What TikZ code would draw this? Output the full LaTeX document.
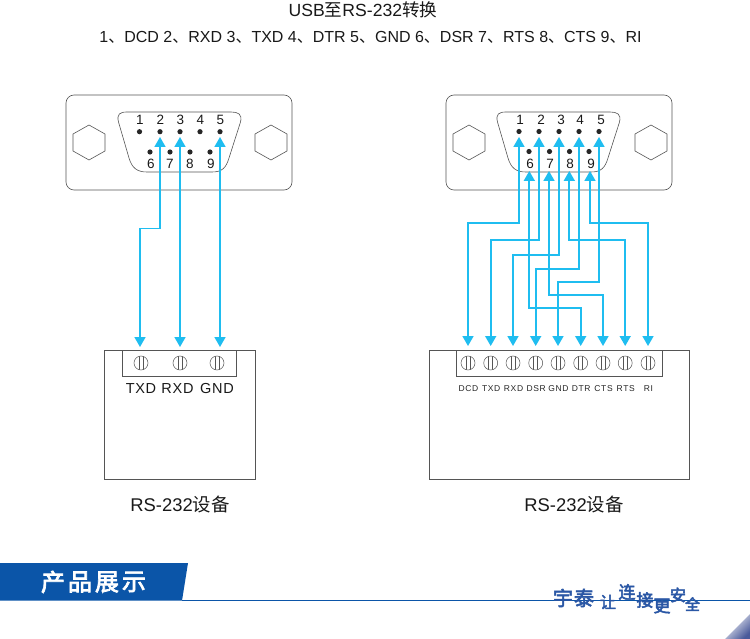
\documentclass[tikz,border=0pt]{standalone}
\usepackage{fontspec}
\setmainfont{Liberation Sans}
\newfontfamily\cjk{Noto Sans CJK SC}
\newfontfamily\cjkb{Noto Sans CJK SC}[FakeBold=3]
\usetikzlibrary{arrows.meta,calc}
\definecolor{wirec}{HTML}{1FBDF0}
\definecolor{bluec}{HTML}{0B55A8}
\definecolor{edgec}{HTML}{555555}
\definecolor{sloganc}{HTML}{2A57A5}
\definecolor{cornerc}{HTML}{4A5A9A}
\tikzset{
 wire/.style={draw=wirec,line width=1.7pt,{Triangle[length=10pt,width=11pt]}-{Triangle[length=10pt,width=11pt]}},
 shell/.style={draw=edgec,line width=0.6pt},
 dev/.style={draw=edgec,line width=0.7pt},
 pin/.style={circle,fill=black!85,inner sep=0pt,minimum size=5.2pt},
 num/.style={font=\fontsize{13.5}{13.5}\selectfont,inner sep=0pt,text=black!90},
 screw/.style={circle,draw=edgec,line width=0.5pt,inner sep=0pt,minimum size=14pt,
   path picture={\draw[edgec,line width=0.5pt]
     ([xshift=-2pt]path picture bounding box.north) -- ([xshift=-2pt]path picture bounding box.south)
     ([xshift=2pt]path picture bounding box.north) -- ([xshift=2pt]path picture bounding box.south);}},
 biglabel/.style={font=\fontsize{14.5}{14.5}\selectfont,inner sep=0pt,text=black!90},
 smalllabel/.style={font=\fontsize{8.5}{8.5}\selectfont,inner sep=0pt,text=black!85},
 capt/.style={font=\fontsize{18.4}{18.4}\selectfont,inner sep=0pt,text=black!90},
 slog/.style={inner sep=0pt,text=sloganc},
 bann/.style={font=\fontsize{24}{24}\selectfont\cjkb,inner sep=0pt,text=white},
}
\begin{document}
\begin{tikzpicture}[x=1pt,y=-1pt]
\useasboundingbox (0,0) rectangle (750,639);
\fill[white] (0,0) rectangle (750,639);

% titles
\node[inner sep=0pt,font=\fontsize{17.6}{17.6}\selectfont,text=black!90] (title) at (363,10) {USB{\cjk 至}RS-232{\cjk 转换}};
\node[inner sep=0pt,font=\fontsize{16}{16}\selectfont,text=black!90] (subtitle) at (370.5,37)
 {1{\cjk 、}DCD 2{\cjk 、}RXD 3{\cjk 、}TXD 4{\cjk 、}DTR 5{\cjk 、}GND 6{\cjk 、}DSR 7{\cjk 、}RTS 8{\cjk 、}CTS 9{\cjk 、}RI};

% ---------- left connector
\draw[shell,rounded corners=8pt] (66,95) rectangle (292,190);
\draw[shell] (118.5,122) .. controls (116.5,114) and (120,112) .. (127,112) -- (231,112)
  .. controls (238,112) and (242.5,114) .. (240.5,122) -- (229,158)
  .. controls (226,168) and (222,172) .. (212,172) -- (147,172)
  .. controls (137,172) and (132,168) .. (129,158) -- cycle;
\draw[shell] (89,125) -- (105,134) -- (105,151) -- (89,160) -- (73,151) -- (73,134) -- cycle;
\draw[shell] (271,125) -- (287,134) -- (287,151) -- (271,160) -- (255,151) -- (255,134) -- cycle;
\foreach \n/\px in {1/139.5,2/160,3/180,4/200,5/220}{
  \node[pin] (lp\n) at (\px,131.7) {};
  \node[num] (ln\n) at (\px+.5,120) {\n};
}
\foreach \n/\px/\lx in {6/150/151,7/170/170,8/190/190,9/210/211}{
  \node[pin] (lp\n) at (\px,152) {};
  \node[num] (ln\n) at (\lx,163.5) {\n};
}
% left device
\draw[dev] (104,479) -- (104,350) -- (255,350) -- (255,479) -- cycle;
\draw[dev] (122,350) -- (122,376) -- (236,376) -- (236,350);
\foreach \n/\px/\txt/\lx in {1/141/TXD/141,2/180/RXD/177.5,3/217/GND/217}{
  \node[screw] (ls\n) at (\px,363) {};
  \node[biglabel] (ll\n) at (\lx,389) {\addfontfeatures{LetterSpace=5}\txt};
}
\coordinate (la1) at (160,137);
\coordinate (la2) at (180,137);
\coordinate (la3) at (220,137);
\coordinate (lb1) at (140,347);
\coordinate (lb2) at (180,347);
\coordinate (lb3) at (220,347);
\draw[wire] (la1) -- (la1 |- 0,228.5) -| (lb1);
\draw[wire] (la2) -- (lb2);
\draw[wire] (la3) -- (lb3);
\node[capt] (lcap) at (180,505) {RS-232{\cjk 设备}};

% ---------- right connector
\draw[shell,rounded corners=8pt] (446,95) rectangle (672,190);
\draw[shell] (497.5,122) .. controls (495.5,114) and (499,112) .. (506,112) -- (610,112)
  .. controls (617,112) and (621.5,114) .. (619.5,122) -- (608,158)
  .. controls (605,168) and (601,172) .. (591,172) -- (526,172)
  .. controls (516,172) and (511,168) .. (508,158) -- cycle;
\draw[shell] (469,125) -- (485,134) -- (485,151) -- (469,160) -- (453,151) -- (453,134) -- cycle;
\draw[shell] (651,125) -- (667,134) -- (667,151) -- (651,160) -- (635,151) -- (635,134) -- cycle;
\foreach \n/\px/\lx in {1/519/520,2/539/541,3/559/561,4/579/580,5/599/601}{
  \node[pin] (rp\n) at (\px,131.5) {};
  \node[num] (rn\n) at (\lx,120) {\n};
}
\foreach \n/\px/\lx in {6/529/530,7/549.5/550,8/569.5/570,9/589/591}{
  \node[pin] (rp\n) at (\px,151.5) {};
  \node[num] (rn\n) at (\lx,163.5) {\n};
}
% right device
\draw[dev] (429,479) -- (429,350) -- (689,350) -- (689,479) -- cycle;
\draw[dev] (456,350) -- (456,376) -- (662,376) -- (662,350);
\foreach \n/\px/\txt in {1/468/DCD,2/490.7/TXD,3/513/RXD,4/535.7/DSR,5/558/GND,6/580.7/DTR,7/603/CTS,8/625.2/RTS,9/648/RI}{
  \node[screw] (rs\n) at (\px,363) {};
  \coordinate (rb\n) at (\px,346);
  \node[smalllabel] (rl\n) at (\px+.5,388.5) {\addfontfeatures{LetterSpace=8}\txt};
}
\foreach \n/\px in {1/519,2/539,3/559,4/579,5/599}{\coordinate (ra\n) at (\px,137);}
\foreach \n/\px in {6/529.3,7/549,8/569.3,9/590}{\coordinate (ra\n) at (\px,171);}
\draw[wire] (ra1) -- (ra1 |- 0,222.7) -| (rb1);
\draw[wire] (ra2) -- (ra2 |- 0,240) -| (rb2);
\draw[wire] (ra3) -- (ra3 |- 0,255) -| (rb3);
\draw[wire] (ra4) -- (ra4 |- 0,269) -| (rb4);
\draw[wire] (ra5) -- (ra5 |- 0,281.7) -| (rb5);
\draw[wire] (ra6) -- (ra6 |- 0,308) -| (rb6);
\draw[wire] (ra7) -- (ra7 |- 0,295) -| (rb7);
\draw[wire] (ra8) -- (ra8 |- 0,240) -| (rb8);
\draw[wire] (ra9) -- (ra9 |- 0,222.7) -| (rb9);
\node[capt] (rcap) at (574,505) {RS-232{\cjk 设备}};

% ---------- footer
\fill[bluec] (0,563) -- (188,563) -- (182,600.7) -- (0,600.7) -- cycle;
\draw[bluec,line width=0.9pt] (182,600.5) -- (750,600.5);
\foreach \ch/\px in {产/53,品/80,展/107,示/134}{
  \node[bann] (b\px) at (\px,582) {\ch};
}
\foreach \ch/\px/\py/\sz in {宇/563/598/20,泰/584/598/20,让/608/602/16,连/627/592/17,接/645/600/17,更/662/606/17,安/678/595/16,全/692.5/604/15}{
  \node[slog,font=\fontsize{\sz}{\sz}\selectfont\cjkb] (s\px) at (\px,\py) {\ch};
}
\begin{scope}
\clip (725,639) -- (750,614) -- (750,639) -- cycle;
\shade[left color=white,right color=cornerc,shading angle=45] (725,614) rectangle (750,639);
\end{scope}
\end{tikzpicture}
\end{document}
